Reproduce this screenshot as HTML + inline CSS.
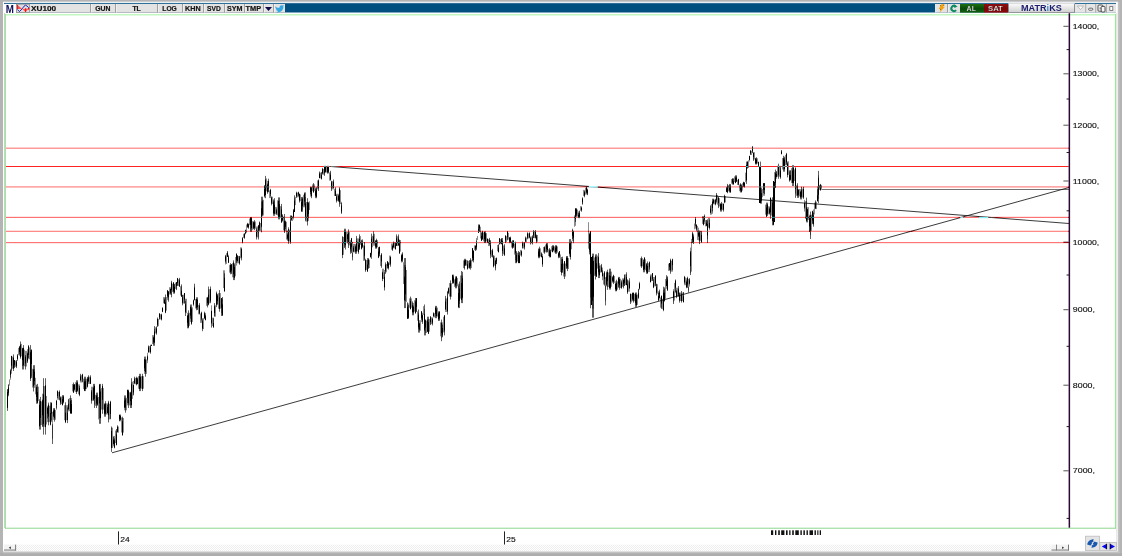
<!DOCTYPE html>
<html><head><meta charset="utf-8"><title>XU100</title><style>*{margin:0;padding:0}
html,body{width:1122px;height:556px;overflow:hidden;background:#b4b4b4}
svg{position:absolute;left:0;top:0;display:block}
text{font-family:"Liberation Sans",sans-serif}
.tb{font-weight:bold;font-size:7.3px;fill:#141414;stroke:#141414;stroke-width:0.2px}
.ax{font-size:7.7px;fill:#0c0c0c;stroke:#0c0c0c;stroke-width:0.12px}
</style></head><body>
<svg width="1122" height="556" viewBox="0 0 1122 556">
<defs><linearGradient id="gm" x1="0" y1="0" x2="0" y2="1"><stop offset="0" stop-color="#ffffff"/><stop offset="1" stop-color="#cfcfcf"/></linearGradient><linearGradient id="gg" x1="0" y1="0" x2="0" y2="1"><stop offset="0" stop-color="#1f6e10"/><stop offset="0.55" stop-color="#084a08"/><stop offset="1" stop-color="#136413"/></linearGradient><linearGradient id="gr" x1="0" y1="0" x2="0" y2="1"><stop offset="0" stop-color="#8c1010"/><stop offset="0.55" stop-color="#7a0606"/><stop offset="1" stop-color="#8a0c0c"/></linearGradient><pattern id="dots" width="2" height="2" patternUnits="userSpaceOnUse"><rect width="2" height="2" fill="#ffffff"/><rect width="1" height="1" fill="#eeeeee"/><rect x="1" y="1" width="1" height="1" fill="#eeeeee"/></pattern></defs>
<rect x="0" y="0" width="1122" height="556" fill="#b4b4b4"/>
<rect x="0" y="553" width="1122" height="3" fill="#adadad"/>
<rect x="3" y="1.7" width="1114.9" height="550" fill="#ffffff"/>
<rect x="4" y="2.9" width="1112" height="1.2" fill="#2f6f98"/>
<rect x="4" y="4" width="1112" height="8.5" fill="#02507f"/>
<rect x="4" y="4" width="12.3" height="9.6" fill="#ffffff"/>
<rect x="16.3" y="4" width="268.7" height="8.5" fill="#e3e3e3"/>
<rect x="16.3" y="12" width="268.7" height="0.6" fill="#b8b8b8"/>
<rect x="16.5" y="4.2" width="13" height="8.2" fill="#dedede" stroke="#8f8f8f" stroke-width="0.8"/>
<path d="M17.3 4.9 V9 L22.3 9 Z" fill="#ff2a2a" fill-opacity="0.75"/><path d="M22.3 9 L25.5 12 L29 8.6 Z" fill="#ff2a2a" fill-opacity="0.75"/>
<path d="M17.6 4.8 V9 M25.6 8.2 V12" stroke="#ff0000" stroke-width="0.9"/><rect x="28" y="8" width="1.2" height="1.6" fill="#ff0000"/>
<path d="M17.3 9.4 L19.4 11.6 L22.3 8.7 L24 6.2 L25.5 5.3 L27 6 L28.9 7.8" stroke="#1414b4" stroke-width="0.9" fill="none"/>
<rect x="90" y="4" width="1" height="8.5" fill="#a0a0a0"/><rect x="91" y="4" width="0.7" height="8.5" fill="#f4f4f4"/>
<rect x="115" y="4" width="1" height="8.5" fill="#a0a0a0"/><rect x="116" y="4" width="0.7" height="8.5" fill="#f4f4f4"/>
<rect x="157" y="4" width="1" height="8.5" fill="#a0a0a0"/><rect x="158" y="4" width="0.7" height="8.5" fill="#f4f4f4"/>
<rect x="182" y="4" width="1" height="8.5" fill="#a0a0a0"/><rect x="183" y="4" width="0.7" height="8.5" fill="#f4f4f4"/>
<rect x="203" y="4" width="1" height="8.5" fill="#a0a0a0"/><rect x="204" y="4" width="0.7" height="8.5" fill="#f4f4f4"/>
<rect x="224" y="4" width="1" height="8.5" fill="#a0a0a0"/><rect x="225" y="4" width="0.7" height="8.5" fill="#f4f4f4"/>
<rect x="244" y="4" width="1" height="8.5" fill="#a0a0a0"/><rect x="245" y="4" width="0.7" height="8.5" fill="#f4f4f4"/>
<rect x="263" y="4" width="1" height="8.5" fill="#a0a0a0"/><rect x="264" y="4" width="0.7" height="8.5" fill="#f4f4f4"/>
<rect x="273" y="4" width="1" height="8.5" fill="#a0a0a0"/><rect x="274" y="4" width="0.7" height="8.5" fill="#f4f4f4"/>
<text x="5.8" y="13.2" textLength="8.2" lengthAdjust="spacingAndGlyphs" style="font-weight:bold;font-size:10px;fill:#12125c">M</text>
<text class="tb" x="31" y="11" textLength="25.2" lengthAdjust="spacingAndGlyphs" >XU100</text>
<text class="tb" x="95.2" y="11" textLength="15.2" lengthAdjust="spacingAndGlyphs" >GUN</text>
<text class="tb" x="132.4" y="11" textLength="8.4" lengthAdjust="spacingAndGlyphs" >TL</text>
<text class="tb" x="162.3" y="11" textLength="14.5" lengthAdjust="spacingAndGlyphs" >LOG</text>
<text class="tb" x="185" y="11" textLength="15.6" lengthAdjust="spacingAndGlyphs" >KHN</text>
<text class="tb" x="207.1" y="11" textLength="13.7" lengthAdjust="spacingAndGlyphs" >SVD</text>
<text class="tb" x="226.9" y="11" textLength="15.5" lengthAdjust="spacingAndGlyphs" >SYM</text>
<text class="tb" x="245.6" y="11" textLength="15.6" lengthAdjust="spacingAndGlyphs" >TMP</text>
<path d="M265 7 H272 L268.5 11 Z" fill="#100a4a"/>
<path d="M275.2 6.2 C276.8 7.8 278.3 8 279.6 7.6 C279.2 5.6 281.3 4.6 282.8 5.6 L284 5.4 L283.3 6.6 C283.6 9.4 281.6 12.4 277.8 12.6 L276.4 12.4 L278.2 11.2 C276.8 11 276.2 10.2 276 9.6 L276.8 9.4 C275.8 8.8 275.4 8 275.2 6.2 Z" fill="#35a9e1"/>
<rect x="935.2" y="4" width="24.799999999999955" height="8.5" fill="#e3e3e3"/>
<rect x="947" y="4" width="1" height="8.5" fill="#a0a0a0"/><rect x="948" y="4" width="0.7" height="8.5" fill="#f4f4f4"/>
<rect x="935.2" y="4" width="0.7" height="8.5" fill="#f4f4f4"/>
<path d="M941.4 4.2 L944.5 4.1 L943.1 6.9 L945 6.7 L939.3 12.9 L941 8.9 L938.7 9 Z" fill="#f5a20c"/><rect x="940.2" y="5.2" width="0.9" height="0.9" fill="#7a4a08"/><rect x="943.4" y="5" width="0.8" height="0.8" fill="#7a4a08"/><rect x="940" y="9.2" width="0.9" height="0.8" fill="#7a4a08"/>
<path d="M955.6 6.2 A2.7 2.7 0 1 0 956.1 10.2" stroke="#0d8a62" stroke-width="2" fill="none"/><path d="M954 4.4 L957.6 6.4 L954.4 8 Z" fill="#0d8a62"/>
<rect x="960" y="4" width="24" height="8.6" fill="url(#gg)"/>
<rect x="984" y="4" width="24.5" height="8.6" fill="url(#gr)"/>
<text class="tb" x="966.6" y="10.9" textLength="9.4" lengthAdjust="spacingAndGlyphs" style="fill:#ffffff;font-size:7.2px">AL</text>
<text class="tb" x="988" y="10.9" textLength="14.8" lengthAdjust="spacingAndGlyphs" style="fill:#ffffff;font-size:7.2px">SAT</text>
<rect x="1008.5" y="2.9" width="66" height="9.7" fill="url(#gm)"/><rect x="1008.5" y="2.9" width="66" height="0.8" fill="#cfcfcf"/><rect x="1008.5" y="12" width="66" height="0.8" fill="#8e8e8e"/><rect x="1074" y="4" width="0.8" height="8.6" fill="#8e8e8e"/>
<text x="1021" y="11.4" textLength="40.8" lengthAdjust="spacingAndGlyphs" style="font-weight:bold;font-size:8.4px;fill:#1d1d6e">MATR<tspan style="fill:#3a8fd8">i</tspan>KS</text>
<rect x="1075" y="4" width="41" height="8.6" fill="#e6e6e6"/>
<rect x="1085.3" y="4" width="0.9" height="8.6" fill="#a0a0a0"/>
<rect x="1095.3" y="4" width="0.9" height="8.6" fill="#a0a0a0"/>
<rect x="1105.9" y="4" width="0.9" height="8.6" fill="#a0a0a0"/>
<path d="M1077.4 6 H1083.6 L1080.5 9.6 Z" fill="#fdfdfd" stroke="#a8a8a8" stroke-width="0.7"/>
<rect x="1088.6" y="8.2" width="4.2" height="2" rx="0.9" fill="#fff" stroke="#444" stroke-width="0.8"/>
<rect x="1098" y="5" width="4.8" height="6.2" rx="0.9" fill="#f6f6f6" stroke="#2a2a2a" stroke-width="0.8"/><rect x="1101.2" y="6.4" width="3.8" height="5.6" rx="0.9" fill="#f6f6f6" stroke="#2a2a2a" stroke-width="0.8"/><rect x="1099.6" y="7.4" width="1.2" height="2" fill="#777"/>
<rect x="1109.8" y="6.6" width="3" height="3.8" fill="#fff" stroke="#666" stroke-width="0.8"/>
<rect x="4.2" y="13" width="0.8" height="515" fill="#c4c4c4"/>
<rect x="5" y="14" width="1111" height="1.5" fill="#c2f7c2"/>
<rect x="5" y="14" width="1" height="514.6" fill="#93ee93"/>
<rect x="1115" y="14" width="1" height="514.6" fill="#93ee93"/>
<rect x="5" y="527.7" width="1111" height="1" fill="#8fd68f"/>
<rect x="1116" y="13" width="1.4" height="539" fill="#e9e9e9"/>
<rect x="822" y="189" width="247" height="0.9" fill="#666"/>
<rect x="1068.6" y="13.2" width="1.5" height="514.5" fill="#2c0838"/>
<rect x="1063.4" y="25.8" width="5.4" height="1" fill="#555"/>
<text class="ax" x="1072.8" y="28.8" textLength="26.4" lengthAdjust="spacingAndGlyphs">14000,</text>
<rect x="1063.4" y="73.3" width="5.4" height="1" fill="#555"/>
<text class="ax" x="1072.8" y="76.3" textLength="26.4" lengthAdjust="spacingAndGlyphs">13000,</text>
<rect x="1063.4" y="124.7" width="5.4" height="1" fill="#555"/>
<text class="ax" x="1072.8" y="127.7" textLength="26.4" lengthAdjust="spacingAndGlyphs">12000,</text>
<rect x="1063.4" y="180.5" width="5.4" height="1" fill="#555"/>
<text class="ax" x="1072.8" y="183.5" textLength="26.4" lengthAdjust="spacingAndGlyphs">11000,</text>
<rect x="1063.4" y="241.6" width="5.4" height="1" fill="#555"/>
<text class="ax" x="1072.8" y="244.6" textLength="26.4" lengthAdjust="spacingAndGlyphs">10000,</text>
<rect x="1063.4" y="309.2" width="5.4" height="1" fill="#555"/>
<text class="ax" x="1072.8" y="312.2" textLength="22.2" lengthAdjust="spacingAndGlyphs">9000,</text>
<rect x="1063.4" y="384.7" width="5.4" height="1" fill="#555"/>
<text class="ax" x="1072.8" y="387.7" textLength="22.2" lengthAdjust="spacingAndGlyphs">8000,</text>
<rect x="1063.4" y="470.3" width="5.4" height="1" fill="#555"/>
<text class="ax" x="1072.8" y="473.3" textLength="22.2" lengthAdjust="spacingAndGlyphs">7000,</text>
<rect x="1066.6" y="49.1" width="2.6" height="1" fill="#1a1a1a"/>
<rect x="1066.6" y="98.5" width="2.6" height="1" fill="#1a1a1a"/>
<rect x="1066.6" y="152.0" width="2.6" height="1" fill="#1a1a1a"/>
<rect x="1066.6" y="210.3" width="2.6" height="1" fill="#1a1a1a"/>
<rect x="1066.6" y="274.5" width="2.6" height="1" fill="#1a1a1a"/>
<rect x="1066.6" y="345.8" width="2.6" height="1" fill="#1a1a1a"/>
<rect x="1066.6" y="426.1" width="2.6" height="1" fill="#1a1a1a"/>
<rect x="1066.6" y="517.9" width="2.6" height="1" fill="#1a1a1a"/>
<line x1="112" y1="452.8" x2="1069" y2="187.5" stroke="#181818" stroke-width="0.85"/>
<line x1="330.7" y1="166.5" x2="1069" y2="223.5" stroke="#181818" stroke-width="0.85"/>
<path d="M7.5 389.0V407.3M8.5 384.2V396.4M9.5 379.4V385.6M10.5 368.8V379.7M11.5 358.1V373.7M12.5 356.7V368.7M13.5 356.7V368.7M14.5 360.7V366.9M15.5 360.7V366.9M16.5 360.7V366.9M17.5 354.3V361.0M18.5 347.9V355.2M19.5 345.9V355.8M20.5 343.9V356.3M21.5 343.9V356.3M22.5 348.5V366.1M23.5 348.5V366.1M24.5 349.7V366.3M25.5 350.9V366.5M26.5 350.9V366.5M27.5 349.2V362.9M28.5 347.4V359.3M29.5 347.4V359.3M30.5 350.1V376.0M31.5 352.5V376.4M32.5 368.8V387.5M33.5 368.9V387.8M34.5 368.9V387.8M35.5 377.8V394.4M36.5 386.7V400.9M37.5 386.7V400.9M38.5 386.7V400.9M39.5 401.5V425.0M40.5 401.5V425.0M41.5 401.5V425.0M42.5 393.7V425.9M43.5 386.1V426.7M44.5 386.1V426.7M45.5 386.1V426.7M46.5 395.9V424.5M47.5 405.8V422.1M48.5 405.8V422.1M49.5 405.8V422.1M50.5 405.5V422.1M51.5 405.5V422.1M52.5 411.8V438.8M53.5 409.9V419.8M54.5 409.9V419.8M55.5 409.9V419.8M56.5 400.9V409.7M57.5 391.9V399.7M58.5 391.9V399.7M59.5 391.9V399.7M60.5 396.5V403.7M61.5 396.6V404.0M62.5 396.6V404.0M63.5 396.5V403.7M64.5 405.2V420.2M65.5 405.2V420.2M66.5 405.2V420.2M67.5 405.2V420.2M68.5 398.9V411.4M69.5 398.0V411.2M70.5 398.0V411.2M71.5 398.0V411.2M72.5 384.0V391.4M73.5 384.0V391.4M74.5 384.0V391.4M75.5 382.2V392.1M76.5 382.2V392.1M77.5 382.2V392.1M78.5 384.4V394.3M79.5 384.4V394.3M80.5 375.2V382.5M81.5 375.2V382.5M82.5 375.2V382.5M83.5 378.7V389.1M84.5 378.7V389.1M85.5 378.7V389.1M86.5 378.7V389.1M87.5 377.7V386.5M88.5 376.7V384.0M89.5 376.7V384.0M90.5 376.7V384.0M91.5 386.7V400.9M92.5 386.7V400.9M93.5 386.7V400.9M94.5 387.3V404.6M95.5 394.8V405.8M96.5 394.8V405.8M97.5 394.8V405.8M98.5 397.0V419.4M99.5 389.5V418.2M100.5 389.5V418.2M101.5 388.1V409.6M102.5 388.1V409.6M103.5 388.1V409.6M104.5 403.4V414.5M105.5 403.4V414.5M106.5 403.4V414.5M107.5 403.4V414.5M108.5 403.8V419.4M109.5 403.8V419.4M110.5 403.8V419.4M111.5 427.7V448.0M112.5 427.7V448.0M113.5 435.9V446.3M114.5 435.9V446.3M115.5 430.6V443.0M116.5 430.6V443.0M117.5 426.5V432.7M118.5 426.5V432.7M119.5 415.6V421.3M120.5 415.6V421.3M121.5 417.4V432.5M122.5 418.0V432.6M123.5 418.0V432.6M124.5 397.8V410.3M125.5 397.8V410.3M126.5 397.8V410.3M127.5 392.3V405.4M128.5 392.3V405.4M129.5 392.3V405.4M130.5 392.3V405.4M131.5 382.4V403.8M132.5 381.6V398.9M133.5 381.0V395.5M134.5 377.9V384.2M135.5 377.9V384.2M136.5 377.9V384.2M137.5 377.9V384.2M138.5 376.2V388.7M139.5 376.2V388.7M140.5 376.2V388.7M141.5 376.2V388.7M142.5 376.2V388.7M143.5 376.2V388.7M144.5 359.4V373.9M145.5 359.4V373.9M146.5 359.4V373.9M147.5 352.8V363.2M148.5 346.3V352.5M149.5 346.0V352.5M150.5 346.0V352.5M151.5 344.9V345.7M152.5 335.1V344.1M153.5 335.1V344.1M154.5 328.9V343.0M155.5 327.3V333.5M156.5 327.3V333.5M157.5 318.9V326.2M158.5 318.9V326.2M159.5 314.2V319.4M160.5 314.2V319.4M161.5 314.2V319.4M162.5 307.0V312.2M163.5 297.1V303.3M164.5 297.1V303.3M165.5 297.1V310.6M166.5 297.1V310.6M167.5 291.7V300.1M168.5 291.7V300.1M169.5 287.2V294.5M170.5 287.2V294.5M171.5 283.1V295.0M172.5 283.8V292.1M173.5 283.8V292.1M174.5 283.8V292.1M175.5 282.7V288.9M176.5 282.7V288.9M177.5 279.2V286.0M178.5 279.2V286.0M179.5 279.2V286.0M180.5 286.2V295.5M181.5 286.2V295.5M182.5 294.7V303.6M183.5 294.7V303.6M184.5 294.7V303.6M185.5 298.7V313.2M186.5 298.7V313.2M187.5 312.8V325.8M188.5 312.8V325.8M189.5 312.8V325.8M190.5 307.3V321.9M191.5 307.3V321.9M192.5 307.3V321.9M193.5 300.0V306.2M194.5 286.4V300.4M195.5 299.1V308.5M196.5 299.1V308.5M197.5 299.1V308.5M198.5 304.9V314.2M199.5 304.9V314.2M200.5 313.5V322.9M201.5 313.5V322.9M202.5 318.1V329.1M203.5 318.1V329.1M204.5 312.9V319.2M205.5 312.9V319.2M206.5 297.5V305.8M207.5 297.5V305.8M208.5 289.2V303.3M209.5 289.2V303.3M210.5 289.2V303.3M211.5 305.3V324.0M212.5 317.6V326.0M213.5 317.6V326.0M214.5 305.3V316.7M215.5 305.3V316.7M216.5 293.8V305.2M217.5 293.8V305.2M218.5 293.1V308.7M219.5 293.1V308.7M220.5 293.1V308.7M221.5 298.7V313.2M222.5 298.7V313.2M223.5 270.3V288.1M224.5 270.3V288.1M225.5 256.2V264.5M226.5 253.1V264.0M227.5 251.9V256.6M228.5 254.8V263.1M229.5 264.8V272.7M230.5 264.8V272.7M231.5 264.8V272.7M232.5 263.2V277.3M233.5 263.2V277.3M234.5 263.2V277.3M235.5 257.0V276.3M236.5 255.2V265.6M237.5 256.0V263.3M238.5 256.0V263.3M239.5 256.0V263.3M240.5 247.4V258.3M241.5 247.4V258.3M242.5 237.7V243.4M243.5 233.8V238.0M244.5 233.8V238.0M245.5 229.5V233.7M246.5 224.5V232.9M247.5 223.7V227.9M248.5 223.7V227.9M249.5 218.5V225.2M250.5 219.2V229.6M251.5 219.2V229.6M252.5 221.1V229.9M253.5 221.5V228.7M254.5 221.5V228.7M255.5 221.5V228.7M256.5 226.5V237.4M257.5 226.5V237.4M258.5 226.5V237.4M259.5 223.0V230.8M260.5 223.0V230.8M261.5 201.7V227.3M262.5 199.8V215.5M263.5 199.8V215.5M264.5 185.8V196.2M265.5 179.0V195.1M266.5 178.4V191.3M267.5 180.8V191.7M268.5 180.8V191.7M269.5 190.3V198.1M270.5 190.3V198.1M271.5 196.7V204.0M272.5 196.7V204.0M273.5 200.7V213.3M274.5 200.7V213.3M275.5 206.9V214.3M276.5 206.9V214.3M277.5 200.3V215.4M278.5 200.5V216.3M279.5 200.5V216.3M280.5 206.1V217.2M281.5 206.6V220.2M282.5 215.2V221.7M283.5 216.7V230.3M284.5 216.7V230.3M285.5 220.4V230.9M286.5 221.8V239.6M287.5 230.5V241.0M288.5 229.6V241.5M289.5 229.6V241.5M290.5 219.4V239.8M291.5 216.3V221.0M292.5 216.3V221.0M293.5 208.9V219.4M294.5 197.8V210.4M295.5 196.9V205.2M296.5 192.6V197.3M297.5 192.6V197.3M298.5 192.6V197.3M299.5 194.4V201.2M300.5 194.4V201.2M301.5 198.8V209.7M302.5 198.8V209.7M303.5 194.8V207.3M304.5 194.8V207.3M305.5 196.9V219.9M306.5 202.0V221.7M307.5 202.0V221.7M308.5 203.1V220.9M309.5 201.3V210.1M310.5 188.3V196.6M311.5 188.3V196.6M312.5 184.4V191.1M313.5 184.4V191.1M314.5 184.4V191.1M315.5 187.6V196.5M316.5 187.6V196.5M317.5 180.4V189.3M318.5 180.4V189.3M319.5 172.6V178.4M320.5 172.6V178.4M321.5 172.6V178.4M322.5 169.0V174.8M323.5 169.0V174.8M324.5 167.2V174.5M325.5 166.9V172.6M326.5 166.9V172.6M327.5 166.9V172.6M328.5 166.9V172.6M329.5 172.4V180.7M330.5 172.4V180.7M331.5 181.1V189.4M332.5 181.1V189.4M333.5 181.1V189.4M334.5 188.8V196.0M335.5 188.8V196.0M336.5 193.8V201.1M337.5 193.8V201.1M338.5 193.8V201.1M339.5 190.1V204.1M340.5 190.1V204.1M341.5 201.8V213.2M342.5 237.0V254.8M343.5 237.0V254.8M344.5 231.6V246.6M345.5 231.6V246.6M346.5 232.0V241.8M347.5 232.0V241.8M348.5 231.9V245.4M349.5 231.9V245.4M350.5 240.1V251.6M351.5 240.1V251.6M352.5 241.8V257.4M353.5 244.0V252.3M354.5 244.0V252.3M355.5 244.0V252.3M356.5 238.4V251.3M357.5 238.4V251.3M358.5 238.4V251.3M359.5 236.8V249.3M360.5 236.1V244.9M361.5 240.8V248.1M362.5 240.8V248.1M363.5 245.3V260.8M364.5 245.3V260.8M365.5 260.0V269.9M366.5 260.0V269.9M367.5 260.0V269.9M368.5 259.7V268.0M369.5 259.7V268.0M370.5 252.6V257.8M371.5 237.1V255.3M372.5 235.8V247.3M373.5 233.8V245.7M374.5 233.8V245.7M375.5 240.1V247.3M376.5 240.1V247.3M377.5 240.1V247.3M378.5 248.2V256.5M379.5 248.2V256.5M380.5 255.2V266.1M381.5 255.2V266.1M382.5 268.7V279.1M383.5 268.7V279.1M384.5 270.0V287.2M385.5 264.0V272.3M386.5 264.0V272.3M387.5 262.2V268.4M388.5 262.2V268.4M389.5 255.6V264.9M390.5 255.6V264.9M391.5 243.5V249.7M392.5 243.5V249.7M393.5 242.6V248.4M394.5 242.6V248.4M395.5 242.6V248.4M396.5 236.3V246.1M397.5 236.3V246.1M398.5 236.3V246.1M399.5 240.1V251.6M400.5 240.1V251.6M401.5 253.7V261.0M402.5 253.7V261.0M403.5 262.3V284.1M404.5 265.1V301.1M405.5 265.1V301.1M406.5 270.0V301.9M407.5 303.4V316.4M408.5 303.4V316.4M409.5 298.4V307.7M410.5 298.4V307.7M411.5 298.4V307.7M412.5 302.9V313.3M413.5 302.9V313.3M414.5 300.2V311.6M415.5 300.2V311.6M416.5 300.2V311.6M417.5 311.3V320.7M418.5 312.7V329.4M419.5 320.2V330.6M420.5 320.2V330.6M421.5 312.8V322.1M422.5 312.8V322.1M423.5 306.2V315.0M424.5 308.8V331.1M425.5 320.6V333.0M426.5 320.6V333.0M427.5 319.1V331.6M428.5 319.1V331.6M429.5 319.1V331.6M430.5 317.3V324.1M431.5 317.3V324.1M432.5 317.3V324.1M433.5 313.2V317.4M434.5 313.2V317.4M435.5 307.6V316.5M436.5 307.6V316.5M437.5 307.6V316.5M438.5 312.4V319.6M439.5 312.4V319.6M440.5 322.3V336.3M441.5 322.6V338.2M442.5 322.3V336.3M443.5 316.8V332.4M444.5 316.8V332.4M445.5 298.5V312.0M446.5 298.5V312.0M447.5 290.8V310.7M448.5 287.8V294.2M449.5 283.0V296.5M450.5 283.1V296.8M451.5 283.1V296.8M452.5 276.0V283.0M453.5 276.0V283.0M454.5 279.4V286.8M455.5 278.1V286.6M456.5 278.1V286.6M457.5 278.0V286.3M458.5 283.7V304.1M459.5 283.7V304.1M460.5 275.5V298.6M461.5 275.5V298.6M462.5 275.5V298.6M463.5 260.3V268.1M464.5 260.3V268.1M465.5 259.9V265.6M466.5 259.9V265.6M467.5 260.9V268.2M468.5 260.9V268.2M469.5 260.9V268.2M470.5 259.8V268.1M471.5 259.8V268.1M472.5 250.1V260.4M473.5 250.1V260.4M474.5 245.4V250.1M475.5 245.4V250.1M476.5 238.0V248.8M477.5 235.9V240.0M478.5 225.6V231.8M479.5 225.6V231.8M480.5 226.7V238.5M481.5 232.2V239.5M482.5 232.2V239.5M483.5 232.5V241.3M484.5 233.1V241.4M485.5 233.1V241.4M486.5 233.1V241.4M487.5 239.2V241.8M488.5 239.2V246.1M489.5 239.2V246.1M490.5 241.4V255.5M491.5 250.1V256.9M492.5 250.1V256.9M493.5 255.7V265.5M494.5 255.7V265.5M495.5 258.0V268.4M496.5 257.3V264.1M497.5 245.0V251.2M498.5 245.0V251.2M499.5 239.0V244.2M500.5 239.0V244.2M501.5 239.0V244.2M502.5 240.5V253.5M503.5 245.5V254.3M504.5 245.5V254.3M505.5 236.2V242.0M506.5 236.2V242.0M507.5 232.8V239.6M508.5 232.8V239.6M509.5 237.5V242.2M510.5 237.5V242.2M511.5 241.4V247.6M512.5 241.4V247.6M513.5 241.4V247.6M514.5 243.7V254.6M515.5 244.6V260.2M516.5 252.7V261.5M517.5 252.7V261.5M518.5 252.7V261.5M519.5 252.7V261.5M520.5 249.9V255.6M521.5 249.9V255.6M522.5 242.7V248.4M523.5 242.7V248.4M524.5 242.7V248.4M525.5 237.5V242.2M526.5 237.5V242.2M527.5 233.3V238.5M528.5 233.3V238.5M529.5 233.3V238.5M530.5 236.4V243.2M531.5 236.4V243.2M532.5 236.4V243.2M533.5 231.4V238.2M534.5 231.4V238.2M535.5 231.4V238.2M536.5 235.0V241.8M537.5 235.0V241.8M538.5 248.3V256.6M539.5 248.3V256.6M540.5 248.3V256.6M541.5 252.6V257.3M542.5 253.8V264.7M543.5 247.0V252.7M544.5 247.0V252.7M545.5 244.6V252.3M546.5 244.5V251.7M547.5 244.5V251.7M548.5 249.4V256.1M549.5 249.4V256.1M550.5 249.4V256.1M551.5 246.2V251.4M552.5 246.2V251.4M553.5 246.2V251.4M554.5 246.4V252.6M555.5 246.4V252.6M556.5 246.4V252.6M557.5 246.4V252.6M558.5 252.0V257.2M559.5 252.0V257.2M560.5 254.4V272.0M561.5 259.3V272.8M562.5 259.3V272.8M563.5 263.5V276.5M564.5 263.5V276.5M565.5 263.5V276.5M566.5 258.1V269.0M567.5 258.1V269.0M568.5 258.1V269.0M569.5 242.0V256.7M570.5 242.0V256.7M571.5 240.8V249.3M572.5 230.7V241.1M573.5 230.7V241.1M574.5 215.4V226.8M575.5 211.0V225.8M576.5 209.5V216.5M577.5 209.5V216.5M578.5 211.4V217.1M579.5 211.4V217.1M580.5 206.2V210.8M581.5 206.2V210.8M582.5 197.3V204.6M583.5 189.9V196.1M584.5 189.9V196.1M585.5 187.8V194.6M586.5 187.8V194.6M587.5 188.6V195.3M588.5 222.2V248.7M589.5 234.6V251.9M590.5 242.0V297.5M591.5 263.8V301.0M592.5 262.6V308.7M593.5 262.6V308.7M594.5 257.4V275.9M595.5 257.4V275.9M596.5 257.1V274.8M597.5 255.6V268.6M598.5 256.6V274.6M599.5 263.2V275.7M600.5 265.3V272.6M601.5 265.3V272.6M602.5 267.6V280.2M603.5 273.3V284.5M604.5 273.3V284.5M605.5 277.2V300.8M606.5 273.1V284.5M607.5 272.5V287.0M608.5 272.5V287.0M609.5 271.6V286.7M610.5 271.6V286.7M611.5 271.6V286.7M612.5 276.0V282.8M613.5 276.0V282.8M614.5 276.0V282.8M615.5 281.3V289.7M616.5 281.3V289.7M617.5 281.3V289.7M618.5 278.7V288.0M619.5 278.7V288.0M620.5 278.7V288.0M621.5 279.9V288.0M622.5 278.3V286.8M623.5 278.3V286.8M624.5 274.8V286.0M625.5 274.3V284.9M626.5 274.3V284.9M627.5 280.5V291.7M628.5 280.5V291.7M629.5 280.5V291.7M630.5 294.1V302.4M631.5 294.1V302.4M632.5 293.9V301.2M633.5 293.9V301.2M634.5 293.9V301.2M635.5 294.5V304.9M636.5 294.5V304.9M637.5 294.5V304.9M638.5 288.7V299.1M639.5 281.8V289.5M640.5 258.1V266.4M641.5 258.1V266.4M642.5 258.1V266.4M643.5 259.3V270.2M644.5 259.3V270.2M645.5 259.3V270.2M646.5 263.2V272.1M647.5 263.2V272.1M648.5 263.2V272.1M649.5 263.2V272.1M650.5 274.4V281.1M651.5 274.4V281.1M652.5 274.4V281.1M653.5 277.0V286.4M654.5 277.0V286.4M655.5 277.0V286.4M656.5 284.2V293.6M657.5 284.2V293.6M658.5 291.2V299.5M659.5 291.2V299.5M660.5 297.4V307.7M661.5 297.4V307.7M662.5 298.8V309.2M663.5 290.1V307.8M664.5 288.9V300.4M665.5 279.0V298.8M666.5 277.4V288.8M667.5 277.4V288.8M668.5 263.7V270.9M669.5 263.7V270.9M670.5 260.8V271.7M671.5 260.8V271.7M672.5 260.8V271.7M673.5 289.1V301.6M674.5 282.9V300.6M675.5 281.7V293.2M676.5 287.7V296.5M677.5 287.7V296.5M678.5 287.7V296.5M679.5 292.6V301.0M680.5 292.6V301.0M681.5 292.6V301.0M682.5 292.6V301.0M683.5 292.6V301.0M684.5 277.4V285.2M685.5 277.4V285.2M686.5 278.3V286.6M687.5 278.3V286.6M688.5 278.9V290.3M689.5 278.3V286.6M690.5 247.6V273.1M691.5 238.9V271.7M692.5 233.6V242.3M693.5 233.6V242.3M694.5 223.5V229.3M695.5 219.2V228.6M696.5 224.5V231.2M697.5 225.9V240.0M698.5 227.7V240.3M699.5 230.5V241.9M700.5 230.9V240.8M701.5 230.9V240.8M702.5 216.1V223.9M703.5 216.1V223.9M704.5 216.0V223.9M705.5 220.1V226.4M706.5 220.1V226.4M707.5 220.9V239.2M708.5 217.9V227.7M709.5 217.9V227.7M710.5 204.9V214.8M711.5 204.0V214.6M712.5 201.2V213.8M713.5 199.6V204.4M714.5 199.6V204.4M715.5 199.6V204.4M716.5 194.7V203.4M717.5 194.9V204.7M718.5 198.2V206.5M719.5 198.2V206.5M720.5 203.3V210.2M721.5 203.3V210.2M722.5 203.3V210.2M723.5 203.3V210.2M724.5 196.0V202.4M725.5 196.0V202.4M726.5 187.4V192.2M727.5 185.2V191.9M728.5 185.1V191.3M729.5 185.1V191.3M730.5 185.1V191.3M731.5 179.0V183.7M732.5 179.0V183.7M733.5 179.0V183.7M734.5 176.4V182.1M735.5 176.4V182.1M736.5 176.4V182.1M737.5 179.8V185.0M738.5 179.8V185.0M739.5 184.5V191.2M740.5 184.5V191.2M741.5 184.5V191.2M742.5 183.2V190.7M743.5 182.5V186.7M744.5 182.5V186.7M745.5 172.7V182.1M746.5 164.7V180.8M747.5 162.7V168.4M748.5 160.2V168.0M749.5 155.6V161.5M750.5 150.9V155.0M751.5 150.9V155.0M752.5 147.2V153.2M753.5 152.2V159.5M754.5 152.2V159.5M755.5 158.3V163.5M756.5 158.3V163.5M757.5 158.3V163.5M758.5 162.3V165.9M759.5 167.5V197.8M760.5 167.5V197.8M761.5 189.8V201.4M762.5 188.9V197.3M763.5 185.3V195.8M764.5 185.3V195.8M765.5 204.6V214.7M766.5 204.6V214.7M767.5 204.5V214.4M768.5 206.3V214.3M769.5 206.3V214.3M770.5 199.6V215.7M771.5 199.3V215.6M772.5 200.2V221.2M773.5 187.2V219.1M774.5 172.1V185.3M775.5 172.1V185.3M776.5 171.0V178.8M777.5 165.8V176.7M778.5 165.8V176.7M779.5 165.8V176.7M780.5 165.8V176.7M781.5 150.7V153.8M782.5 158.0V169.5M783.5 158.0V169.5M784.5 158.0V169.5M785.5 154.9V165.3M786.5 154.9V165.3M787.5 161.3V174.8M788.5 161.3V174.8M789.5 170.0V179.8M790.5 170.0V179.8M791.5 168.1V183.1M792.5 168.1V183.1M793.5 168.1V183.1M794.5 169.5V181.0M795.5 171.6V193.6M796.5 185.3V195.8M797.5 185.3V195.8M798.5 189.0V196.4M799.5 189.0V196.4M800.5 189.2V197.7M801.5 188.6V197.6M802.5 188.6V197.6M803.5 188.6V197.6M804.5 199.9V211.5M805.5 201.1V218.9M806.5 201.1V218.9M807.5 207.2V219.9M808.5 207.2V219.9M809.5 214.7V230.8M810.5 215.4V235.2M811.5 214.7V230.8M812.5 211.6V224.2M813.5 209.4V223.9M814.5 202.7V214.4M815.5 201.8V209.1M816.5 201.8V209.1M817.5 186.6V200.6M818.5 175.4V198.8M819.5 184.9V189.8M820.5 184.9V189.8M821.5 184.9V189.8" stroke="#000" stroke-opacity="0.45" stroke-width="1" fill="none"/>
<path d="M7.5 389.4V410.9M8.5 384.8V395.3M10.5 370.0V377.6M11.5 355.8V370.6M13.5 354.4V371.0M14.5 360.0V368.1M16.5 360.1V368.1M17.5 354.4V359.6M19.5 346.4V354.5M20.5 341.5V358.7M22.5 347.8V369.5M23.5 345.1V369.5M25.5 355.1V369.5M27.5 352.6V362.5M28.5 345.1V358.0M30.5 345.1V381.0M31.5 349.3V378.1M33.5 365.2V391.5M34.5 365.2V384.8M36.5 384.7V403.7M37.5 383.9V403.7M39.5 399.3V429.6M40.5 396.9V429.6M42.5 399.6V427.0M43.5 378.2V434.6M45.5 378.2V434.6M47.5 407.2V418.4M48.5 402.6V425.3M50.5 402.3V425.3M51.5 402.3V420.4M52.5 424.3V444.0M53.5 408.2V417.1M54.5 408.0V421.7M56.5 399.9V408.3M57.5 390.4V398.0M59.5 390.4V400.4M60.5 396.7V404.9M62.5 395.1V405.5M63.5 395.1V402.8M65.5 402.3V423.1M67.5 407.4V423.1M68.5 399.4V409.4M70.5 395.4V413.8M71.5 400.1V413.8M73.5 382.5V392.9M74.5 384.0V390.0M76.5 380.3V394.0M77.5 380.3V390.9M79.5 386.0V396.2M80.5 373.8V380.9M82.5 373.8V381.8M84.5 376.7V391.1M85.5 376.7V391.1M87.5 376.9V387.5M88.5 375.3V382.2M90.5 375.3V383.9M91.5 390.0V403.7M93.5 383.9V400.3M94.5 383.9V408.0M96.5 392.6V408.0M97.5 392.6V405.3M99.5 383.9V423.8M100.5 383.9V423.8M102.5 383.9V413.8M104.5 403.7V416.7M105.5 401.2V416.7M107.5 404.6V413.1M108.5 400.8V422.4M110.5 400.8V418.8M111.5 426.5V451.9M113.5 437.0V444.5M114.5 438.5V448.3M116.5 429.0V445.4M117.5 425.3V432.2M119.5 414.5V421.1M120.5 414.5V420.1M122.5 416.7V435.4M124.5 395.4V407.9M125.5 395.4V412.7M127.5 389.7V403.1M128.5 389.7V408.0M130.5 391.8V408.0M131.5 378.2V408.0M133.5 384.9V394.8M134.5 376.7V383.8M136.5 376.7V385.4M137.5 377.6V384.2M139.5 373.8V391.1M140.5 373.8V391.1M142.5 373.8V391.1M144.5 356.6V371.1M145.5 356.6V376.7M147.5 355.6V360.5M148.5 345.5V352.4M150.5 344.8V353.7M151.5 344.8V345.8M153.5 336.7V345.8M154.5 326.1V345.8M156.5 326.4V334.7M157.5 317.5V326.9M159.5 313.2V319.4M161.5 313.7V320.4M162.5 308.1V311.7M164.5 298.5V303.8M165.5 294.5V313.2M167.5 290.1V297.6M168.5 291.1V301.7M170.5 288.7V294.4M171.5 280.8V297.3M173.5 282.2V293.7M174.5 284.2V293.7M176.5 282.1V290.1M177.5 277.9V285.6M179.5 277.9V286.6M181.5 284.4V296.9M182.5 295.0V305.3M184.5 293.0V303.4M185.5 300.8V316.0M187.5 315.0V328.3M188.5 310.3V328.3M190.5 304.5V318.6M191.5 304.5V324.7M193.5 299.6V304.7M194.5 283.7V300.3M196.5 297.3V310.3M197.5 297.3V310.0M199.5 303.1V314.4M201.5 311.7V320.4M202.5 319.5V331.2M204.5 311.7V318.4M205.5 314.7V320.4M207.5 296.9V307.4M208.5 286.5V305.3M210.5 286.5V302.5M211.5 310.7V327.6M213.5 318.4V327.6M214.5 303.1V316.3M216.5 291.6V307.1M217.5 294.5V304.1M219.5 290.1V311.7M221.5 298.0V316.0M222.5 297.0V316.0M224.5 273.3V291.6M225.5 254.9V262.5M227.5 251.0V256.9M228.5 256.1V262.8M230.5 263.2V274.3M231.5 264.0V274.1M233.5 260.4V280.1M234.5 264.4V280.1M236.5 253.2V262.8M237.5 255.0V261.5M239.5 255.9V264.7M241.5 248.4V260.4M242.5 237.3V241.8M244.5 233.1V238.8M245.5 230.0V234.3M247.5 222.9V227.3M248.5 223.7V228.7M250.5 217.2V231.6M251.5 217.2V231.6M253.5 221.6V229.2M254.5 220.1V230.1M256.5 228.3V239.5M258.5 224.9V239.5M259.5 221.5V230.5M261.5 196.7V232.3M262.5 196.7V216.3M264.5 185.2V197.5M265.5 175.9V198.2M267.5 183.6V193.8M268.5 178.7V192.2M270.5 188.8V196.2M271.5 196.6V205.4M273.5 199.4V215.8M274.5 198.2V215.8M276.5 208.6V214.8M278.5 197.4V219.4M279.5 197.4V219.4M281.5 203.9V222.9M282.5 214.3V220.9M284.5 214.0V233.0M285.5 221.0V229.1M287.5 233.4V239.6M288.5 227.3V243.8M290.5 215.4V243.8M291.5 215.4V219.9M293.5 209.5V217.8M294.5 195.3V212.0M296.5 191.7V197.8M298.5 191.7V196.0M299.5 193.5V202.5M301.5 197.0V211.8M302.5 196.9V211.8M304.5 192.4V205.4M305.5 192.4V221.3M307.5 198.2V225.5M308.5 201.9V216.7M310.5 186.7V194.3M311.5 186.9V198.2M313.5 183.1V192.4M315.5 188.7V198.2M316.5 187.5V198.2M318.5 179.4V191.0M319.5 171.5V178.1M321.5 172.2V179.5M322.5 167.9V173.6M324.5 165.8V175.9M325.5 165.8V172.4M327.5 165.8V173.7M328.5 165.8V173.4M330.5 170.8V180.2M331.5 180.8V191.0M333.5 179.5V188.1M335.5 187.4V196.0M336.5 195.3V202.5M338.5 194.9V201.7M339.5 187.4V206.8M341.5 203.0V213.8M342.5 236.2V258.2M344.5 228.7V248.0M345.5 228.7V249.5M347.5 234.0V243.3M348.5 229.3V248.0M350.5 242.6V253.8M351.5 237.9V253.1M352.5 252.9V260.4M353.5 246.1V252.2M355.5 245.5V253.9M356.5 235.9V253.7M358.5 242.1V253.8M359.5 234.4V249.7M361.5 239.8V249.5M362.5 239.4V247.3M364.5 242.3V259.7M365.5 258.8V271.8M367.5 258.1V271.8M368.5 258.1V268.8M370.5 253.1V257.0M371.5 233.6V258.8M373.5 231.5V242.4M375.5 240.6V248.7M376.5 238.7V248.7M378.5 247.1V258.1M379.5 246.6V255.8M381.5 253.1V267.8M382.5 271.7V281.1M384.5 272.3V290.5M385.5 262.4V273.8M387.5 261.0V268.4M388.5 262.6V269.6M390.5 256.7V266.7M392.5 245.2V250.9M393.5 241.5V247.6M395.5 242.9V249.5M396.5 234.4V245.9M398.5 234.4V245.5M399.5 239.7V253.8M401.5 254.9V262.4M402.5 252.3V262.2M404.5 258.1V308.1M405.5 258.1V308.1M407.5 302.4V318.9M408.5 305.1V318.9M410.5 296.6V309.5M412.5 301.4V315.3M413.5 305.7V315.3M415.5 298.0V313.8M416.5 298.0V311.8M418.5 309.5V332.6M419.5 322.9V332.6M421.5 311.0V319.7M422.5 314.8V323.9M424.5 304.5V335.4M425.5 319.4V335.4M427.5 316.7V332.1M428.5 316.7V334.0M430.5 316.0V325.1M432.5 318.3V325.4M433.5 312.4V316.6M435.5 305.9V318.2M436.5 305.9V318.2M438.5 311.3V321.0M439.5 311.0V320.8M441.5 319.6V341.2M442.5 324.7V337.3M444.5 315.2V335.4M445.5 295.9V309.7M447.5 291.7V314.6M448.5 287.6V293.4M450.5 280.4V299.5M452.5 274.6V283.8M453.5 274.6V283.6M455.5 276.4V288.3M456.5 276.4V288.3M458.5 285.6V308.1M459.5 281.5V308.1M461.5 271.0V303.1M462.5 271.8V303.1M464.5 258.8V269.6M465.5 258.8V265.8M467.5 260.4V269.6M469.5 260.1V268.7M470.5 258.2V269.7M472.5 248.1V261.3M473.5 250.6V262.4M475.5 245.5V251.0M476.5 240.6V250.2M478.5 224.4V232.8M479.5 224.4V230.8M481.5 232.8V240.9M482.5 230.8V239.7M484.5 231.7V243.0M485.5 231.5V243.0M487.5 238.7V242.3M489.5 237.9V244.6M490.5 240.2V258.2M492.5 248.8V257.5M493.5 255.3V267.4M495.5 260.3V270.4M496.5 258.3V264.2M498.5 244.3V252.4M499.5 238.0V244.5M501.5 238.0V244.3M502.5 238.0V256.0M504.5 244.2V256.0M505.5 235.1V242.9M507.5 231.5V240.4M509.5 237.3V243.1M510.5 236.6V242.5M512.5 240.2V248.8M513.5 240.2V247.6M515.5 241.6V263.2M516.5 251.1V263.2M518.5 251.0V263.2M519.5 251.9V263.2M521.5 251.2V256.7M522.5 241.6V248.4M524.5 242.5V249.5M525.5 236.6V242.0M527.5 232.3V239.3M529.5 232.3V238.0M530.5 237.4V244.5M532.5 235.3V244.5M533.5 230.1V238.0M535.5 230.1V238.4M536.5 234.6V243.1M538.5 249.2V258.2M539.5 246.7V258.2M541.5 252.6V257.3M542.5 256.3V266.8M544.5 246.3V253.8M546.5 243.1V252.6M547.5 243.1V252.3M549.5 248.1V257.4M550.5 249.9V257.4M552.5 245.2V252.4M553.5 245.2V250.6M555.5 245.2V253.8M556.5 245.2V253.8M558.5 252.9V258.2M559.5 251.0V257.8M561.5 257.1V275.4M562.5 256.7V272.4M564.5 261.0V279.0M566.5 256.0V268.4M567.5 256.0V271.1M569.5 239.1V254.2M570.5 239.1V259.6M572.5 228.7V239.1M573.5 232.1V243.1M575.5 208.1V221.9M576.5 208.1V216.5M578.5 212.9V218.2M579.5 210.6V218.2M581.5 207.5V211.7M582.5 197.8V204.3M584.5 191.1V197.3M586.5 186.5V193.4M587.5 189.6V194.8M589.5 232.7V254.4M590.5 231.2V308.3M592.5 253.6V317.7M593.5 253.6V317.7M595.5 254.3V279.5M596.5 254.3V276.7M598.5 253.1V278.1M599.5 265.7V278.1M601.5 263.9V271.8M602.5 270.4V276.5M604.5 271.1V285.7M605.5 285.7V305.4M606.5 271.6V286.3M607.5 269.7V289.8M609.5 268.7V289.5M610.5 268.7V289.6M612.5 277.4V281.6M613.5 274.7V284.1M615.5 283.4V291.3M616.5 279.7V291.3M618.5 276.9V286.9M619.5 276.9V289.8M621.5 281.2V288.8M623.5 279.5V288.4M624.5 274.5V285.8M626.5 272.3V285.3M627.5 279.4V293.9M629.5 278.3V288.5M630.5 293.4V304.0M632.5 292.5V300.2M633.5 292.5V302.6M635.5 292.5V306.9M636.5 292.5V306.9M638.5 289.2V298.2M639.5 282.9V289.3M641.5 256.5V268.0M643.5 259.9V272.3M644.5 257.2V272.3M646.5 263.5V273.8M647.5 261.5V273.8M649.5 261.5V269.5M650.5 275.8V282.4M652.5 273.1V280.7M653.5 279.2V288.2M655.5 275.2V285.8M656.5 283.7V295.4M658.5 292.8V301.1M659.5 289.6V298.0M661.5 295.4V308.9M663.5 286.7V311.2M664.5 287.4V301.6M666.5 275.2V286.0M667.5 276.3V291.0M669.5 263.0V270.0M670.5 258.7V273.8M672.5 258.7V270.1M673.5 290.9V304.0M675.5 279.5V292.0M676.5 290.2V298.2M678.5 286.0V296.5M679.5 292.7V302.6M681.5 291.0V302.6M683.5 292.0V302.6M684.5 275.9V283.5M686.5 280.5V288.2M687.5 276.7V287.9M688.5 287.2V292.5M689.5 278.5V284.4M690.5 251.0V275.1M692.5 231.9V242.9M693.5 235.4V244.0M695.5 217.4V226.3M696.5 224.4V230.1M698.5 230.8V236.9M699.5 230.9V244.1M701.5 232.2V242.7M703.5 218.4V225.4M704.5 214.5V221.6M706.5 220.1V225.6M707.5 219.3V242.7M709.5 219.5V229.6M710.5 206.0V213.1M712.5 198.7V211.5M713.5 198.7V203.3M715.5 198.8V205.3M716.5 193.0V201.8M718.5 197.1V208.1M720.5 203.6V211.6M721.5 201.9V211.6M723.5 203.8V211.6M724.5 194.7V203.2M726.5 187.4V191.7M727.5 183.9V193.2M729.5 183.9V192.5M730.5 184.0V192.5M732.5 178.1V184.6M733.5 178.3V184.6M735.5 175.3V183.2M736.5 175.3V181.6M738.5 178.8V185.2M740.5 183.2V192.5M741.5 184.6V192.5M743.5 181.7V186.4M744.5 182.2V187.5M746.5 161.6V183.9M747.5 161.6V168.4M749.5 156.1V159.9M750.5 150.1V154.6M752.5 146.0V152.7M753.5 152.6V160.9M755.5 157.9V164.5M756.5 157.3V164.5M758.5 161.6V166.6M760.5 161.6V203.7M761.5 187.8V203.7M763.5 183.2V193.1M764.5 183.2V194.0M766.5 202.6V216.7M767.5 202.6V215.9M769.5 207.6V214.4M770.5 197.4V218.8M772.5 197.3V225.3M773.5 182.8V225.3M775.5 169.5V187.9M776.5 171.5V177.1M778.5 163.7V178.8M780.5 167.3V178.8M781.5 150.1V154.4M783.5 155.8V171.7M784.5 156.7V171.7M786.5 152.9V164.4M787.5 162.5V177.4M789.5 171.4V181.7M790.5 170.8V180.5M792.5 165.2V186.0M793.5 165.2V186.0M795.5 167.3V197.9M797.5 183.2V197.9M798.5 189.6V197.9M800.5 191.5V199.4M801.5 186.8V199.4M803.5 186.8V198.9M804.5 202.7V208.6M806.5 197.6V222.4M807.5 209.2V222.4M809.5 215.8V231.9M810.5 211.6V239.0M812.5 210.8V223.6M813.5 212.6V226.7M815.5 200.4V208.6M817.5 189.2V201.5M818.5 170.9V203.3M820.5 183.9V190.8" stroke="#000" stroke-opacity="0.62" stroke-width="1" fill="none"/>
<path d="M7.5 392.2V407.8M8.5 387.5V392.8M10.5 371.2V374.9M11.5 356.0V365.7M13.5 358.0V368.7M14.5 360.2V365.1M16.5 362.1V365.8M17.5 355.7V358.8M19.5 347.3V352.1M20.5 345.1V357.2M22.5 348.5V360.1M23.5 347.9V365.1M25.5 356.8V363.3M27.5 353.6V360.9M28.5 346.2V355.0M30.5 352.2V378.7M31.5 350.2V364.0M33.5 369.7V385.9M34.5 371.6V381.2M36.5 387.2V397.0M37.5 391.9V402.7M39.5 405.0V426.4M40.5 401.0V417.8M42.5 400.5V415.3M43.5 394.4V423.9M45.5 385.4V427.0M47.5 408.0V413.7M48.5 404.6V416.6M50.5 413.0V424.7M51.5 403.1V413.6M53.5 411.2V415.8M54.5 409.5V418.1M56.5 401.0V404.9M57.5 391.2V396.0M59.5 391.9V396.4M60.5 398.2V402.3M62.5 399.2V405.0M63.5 396.6V401.7M65.5 412.6V422.1M67.5 412.8V420.0M68.5 403.9V409.4M70.5 400.8V413.2M71.5 404.0V413.4M73.5 385.0V392.5M74.5 385.0V389.3M76.5 383.4V392.0M77.5 382.7V390.6M79.5 387.9V394.8M80.5 376.6V380.0M82.5 374.5V379.3M84.5 381.5V390.7M85.5 381.2V389.0M87.5 378.8V386.5M88.5 377.4V381.2M90.5 377.7V383.7M91.5 391.6V400.2M93.5 388.0V399.5M94.5 385.8V398.6M96.5 395.7V403.6M97.5 397.5V404.4M99.5 384.6V403.4M100.5 391.6V418.0M102.5 386.1V399.7M104.5 404.6V413.7M105.5 403.7V413.6M107.5 407.1V413.0M108.5 402.4V415.2M110.5 401.9V413.9M111.5 431.0V447.7M113.5 439.6V443.8M114.5 440.4V447.6M116.5 434.4V444.9M117.5 426.9V431.8M119.5 415.0V419.3M120.5 415.9V419.6M122.5 421.4V435.3M124.5 400.6V407.4M125.5 399.4V407.6M127.5 389.9V397.8M128.5 390.7V403.3M130.5 393.1V401.0M131.5 384.3V405.2M133.5 385.1V392.4M134.5 379.1V382.9M136.5 378.1V384.3M137.5 379.4V384.0M139.5 376.2V389.0M140.5 377.2V387.8M142.5 376.1V388.9M144.5 359.3V368.3M145.5 359.8V372.1M147.5 356.7V359.3M148.5 347.4V352.2M150.5 347.5V352.0M151.5 344.8V345.8M153.5 337.7V342.3M154.5 331.5V342.5M156.5 328.6V332.6M157.5 319.1V324.8M159.5 313.6V317.3M161.5 315.0V319.3M162.5 308.1V311.7M164.5 299.9V303.5M165.5 302.4V312.5M167.5 290.4V295.8M168.5 291.6V297.2M170.5 289.0V292.9M171.5 282.6V290.1M173.5 282.5V291.1M174.5 286.8V292.5M176.5 282.2V286.1M177.5 278.3V283.1M179.5 280.5V286.6M181.5 290.7V296.5M182.5 297.2V302.8M184.5 293.1V299.6M185.5 304.2V311.9M187.5 316.0V322.8M188.5 314.4V327.3M190.5 306.6V315.6M191.5 308.6V323.7M193.5 300.9V304.3M194.5 287.8V299.8M196.5 299.0V307.8M197.5 300.0V307.0M199.5 305.6V312.9M201.5 312.7V318.4M202.5 321.3V328.4M204.5 313.4V317.9M205.5 316.2V319.9M207.5 298.0V302.9M208.5 294.6V304.5M210.5 288.9V300.7M211.5 311.1V322.8M213.5 323.0V327.3M214.5 306.4V313.0M216.5 293.3V304.7M217.5 295.7V301.1M219.5 297.3V308.9M221.5 298.3V307.8M222.5 304.4V315.2M224.5 277.7V291.3M225.5 256.4V260.8M227.5 253.2V256.8M228.5 257.5V262.5M230.5 265.0V272.1M231.5 264.5V270.6M233.5 262.5V274.1M234.5 267.1V277.8M236.5 254.0V260.4M237.5 256.3V260.8M239.5 257.6V263.4M241.5 249.2V257.3M242.5 238.4V241.6M244.5 234.2V237.3M245.5 230.1V232.7M247.5 224.0V226.7M248.5 224.5V227.1M250.5 218.1V224.9M251.5 218.2V228.0M253.5 222.4V227.7M254.5 222.6V228.1M256.5 230.1V236.5M258.5 225.6V232.5M259.5 222.4V228.3M261.5 208.2V226.5M262.5 201.2V214.3M264.5 189.2V196.0M265.5 180.2V195.0M267.5 184.8V192.2M268.5 181.2V188.5M270.5 190.1V194.0M271.5 198.1V203.1M273.5 202.2V213.5M274.5 204.8V213.7M276.5 210.3V213.2M278.5 201.1V217.4M279.5 204.1V217.6M281.5 209.5V222.3M282.5 216.8V220.1M284.5 221.0V230.8M285.5 222.2V226.8M287.5 234.7V238.5M288.5 229.2V241.1M290.5 222.1V242.2M291.5 216.2V219.5M293.5 210.6V216.4M294.5 200.7V212.0M296.5 193.0V196.1M298.5 192.4V194.4M299.5 194.0V200.2M301.5 202.1V211.3M302.5 198.5V206.0M304.5 193.5V201.6M305.5 203.3V217.8M307.5 202.2V221.2M308.5 203.3V214.0M310.5 187.4V191.9M311.5 188.2V196.0M313.5 187.4V192.4M315.5 191.2V195.5M316.5 189.7V196.8M318.5 180.7V187.1M319.5 173.8V178.0M321.5 175.1V178.7M322.5 169.3V173.3M324.5 166.1V172.8M325.5 166.8V171.7M327.5 166.8V172.3M328.5 166.3V171.6M330.5 174.7V179.4M331.5 182.4V187.2M333.5 182.1V186.9M335.5 190.8V195.9M336.5 196.8V200.1M338.5 196.1V200.3M339.5 188.6V202.0M341.5 205.6V211.6M342.5 242.5V255.0M344.5 230.8V243.8M345.5 231.0V244.9M347.5 234.5V239.0M348.5 233.0V242.5M350.5 243.9V249.3M351.5 238.4V247.1M353.5 247.7V251.3M355.5 246.7V251.5M356.5 241.3V251.4M358.5 244.6V252.2M359.5 238.9V247.3M361.5 242.8V248.7M362.5 242.5V246.4M364.5 246.2V255.8M365.5 260.5V270.2M367.5 264.5V271.4M368.5 259.5V264.6M370.5 253.1V257.0M371.5 238.8V252.8M373.5 236.5V241.8M375.5 241.4V246.4M376.5 240.5V247.5M378.5 251.7V257.6M379.5 247.1V253.5M381.5 254.5V261.3M382.5 272.7V278.8M384.5 277.0V287.3M385.5 265.0V270.9M387.5 261.5V266.1M388.5 263.5V267.8M390.5 257.2V263.7M392.5 246.1V249.5M393.5 243.0V247.1M395.5 244.6V249.2M396.5 238.4V245.5M398.5 238.6V245.1M399.5 243.9V253.3M401.5 255.6V260.7M402.5 254.6V259.4M404.5 276.7V299.9M405.5 267.2V294.3M407.5 306.8V318.7M408.5 309.8V317.8M410.5 301.0V309.0M412.5 305.2V312.0M413.5 307.1V312.1M415.5 301.6V313.0M416.5 298.2V306.9M418.5 314.8V327.3M419.5 323.7V329.5M421.5 311.5V317.8M422.5 315.4V320.8M424.5 314.1V329.8M425.5 320.3V327.7M427.5 320.4V331.5M428.5 322.2V333.6M430.5 317.4V322.1M432.5 319.2V322.7M433.5 313.6V316.0M435.5 307.7V314.1M436.5 309.6V316.1M438.5 313.5V319.1M439.5 312.0V318.2M441.5 322.8V333.1M442.5 328.0V334.7M444.5 315.4V330.5M445.5 301.5V309.3M447.5 297.4V311.5M448.5 288.6V292.5M450.5 283.8V296.3M452.5 275.1V281.4M453.5 277.5V282.7M455.5 279.2V285.4M456.5 276.6V283.7M458.5 293.0V307.0M459.5 288.7V300.8M461.5 283.1V300.1M462.5 278.3V297.7M464.5 260.5V265.8M465.5 260.1V264.6M467.5 264.4V268.7M469.5 263.1V267.4M470.5 260.7V266.1M472.5 248.2V258.0M473.5 251.0V259.8M475.5 246.2V248.8M476.5 241.8V247.2M478.5 228.9V232.8M479.5 225.2V228.5M481.5 235.9V240.7M482.5 232.2V238.8M484.5 231.9V239.2M485.5 233.5V241.6M487.5 238.7V242.3M489.5 240.2V244.0M490.5 245.1V254.2M492.5 250.8V255.3M493.5 257.3V266.4M495.5 260.7V266.3M496.5 258.3V261.5M498.5 247.6V252.1M499.5 238.4V242.1M501.5 239.5V243.7M502.5 241.1V251.0M504.5 248.3V254.8M505.5 235.9V240.4M507.5 231.6V237.2M509.5 237.6V241.2M510.5 237.9V241.9M512.5 243.1V247.6M513.5 240.7V246.0M515.5 242.0V253.1M516.5 254.8V262.3M518.5 254.9V262.9M519.5 255.7V263.0M521.5 251.4V254.9M522.5 243.0V246.2M524.5 243.0V246.8M525.5 238.4V241.1M527.5 233.6V237.5M529.5 233.4V237.2M530.5 238.5V242.5M532.5 237.7V242.0M533.5 231.0V235.3M535.5 231.4V237.3M536.5 236.5V240.9M538.5 251.5V256.5M539.5 249.3V256.6M541.5 254.4V256.9M542.5 256.5V264.0M544.5 247.5V251.6M546.5 244.2V249.0M547.5 245.8V250.0M549.5 250.5V256.1M550.5 252.3V256.9M552.5 248.0V252.0M553.5 246.5V250.0M555.5 247.9V252.2M556.5 246.3V251.1M558.5 253.5V256.3M559.5 251.3V255.4M561.5 263.8V272.6M562.5 259.1V269.8M564.5 261.3V274.1M566.5 257.5V266.1M567.5 257.7V267.7M569.5 242.8V253.4M570.5 243.4V257.0M572.5 230.7V235.8M573.5 232.1V237.7M575.5 208.6V218.8M576.5 209.3V214.6M578.5 214.9V217.4M579.5 213.2V217.3M581.5 207.6V209.9M582.5 198.7V202.3M584.5 192.2V195.5M586.5 187.2V192.3M587.5 189.8V193.4M589.5 234.2V250.0M590.5 231.9V274.1M592.5 260.0V300.8M593.5 260.9V296.8M595.5 256.5V274.6M596.5 263.3V276.7M598.5 257.3V272.2M599.5 269.3V275.1M601.5 267.4V271.6M602.5 272.5V276.1M604.5 272.4V279.1M606.5 276.5V284.7M607.5 272.0V281.1M609.5 275.3V288.0M610.5 275.9V287.8M612.5 277.5V280.6M613.5 275.5V281.7M615.5 284.1V289.0M616.5 283.0V290.5M618.5 278.1V283.7M619.5 279.2V285.3M621.5 282.6V287.6M623.5 280.1V284.4M624.5 277.6V282.8M626.5 277.1V285.0M627.5 284.4V292.3M629.5 282.4V288.3M630.5 294.0V301.0M632.5 293.2V298.8M633.5 292.9V300.4M635.5 293.6V302.9M636.5 295.2V305.3M638.5 293.1V297.5M639.5 283.8V288.0M641.5 258.9V266.2M643.5 261.9V269.8M644.5 257.8V268.8M646.5 264.6V271.5M647.5 266.1V273.1M649.5 262.3V267.1M650.5 277.3V282.1M652.5 273.2V278.9M653.5 282.6V287.4M655.5 275.8V283.3M656.5 287.1V292.6M658.5 296.0V300.3M659.5 292.5V297.7M661.5 296.0V303.6M663.5 292.6V310.0M664.5 292.6V300.7M666.5 280.8V285.9M667.5 279.4V289.9M669.5 263.0V267.1M670.5 260.2V269.9M672.5 259.4V265.2M673.5 291.7V298.1M675.5 280.6V287.6M676.5 291.2V296.5M678.5 289.3V294.5M679.5 294.7V300.3M681.5 294.6V301.1M683.5 296.3V302.0M684.5 277.1V282.0M686.5 282.0V287.2M687.5 278.0V284.5M689.5 280.4V283.5M690.5 252.3V266.1M692.5 233.5V239.9M693.5 237.1V242.5M695.5 219.1V223.3M696.5 225.1V228.8M698.5 232.9V235.7M699.5 232.6V240.4M701.5 234.9V242.6M703.5 219.7V224.7M704.5 216.2V219.6M706.5 222.8V225.6M707.5 223.9V235.5M709.5 222.8V227.8M710.5 208.7V212.5M712.5 201.8V208.0M713.5 199.8V203.2M715.5 200.1V204.1M716.5 195.0V199.8M718.5 197.6V203.0M720.5 204.3V209.7M721.5 204.0V209.0M723.5 204.0V209.5M724.5 195.9V202.2M726.5 188.6V191.7M727.5 187.7V192.3M729.5 186.2V190.5M730.5 187.8V192.4M732.5 179.6V182.6M733.5 181.3V184.3M735.5 177.8V182.9M736.5 177.6V181.4M738.5 179.3V183.7M740.5 184.6V190.1M741.5 188.1V191.8M743.5 182.4V185.3M744.5 182.9V185.9M746.5 165.1V180.2M747.5 161.6V166.6M749.5 156.1V159.9M750.5 150.7V153.2M752.5 147.5V151.1M753.5 153.0V156.9M755.5 158.8V163.3M756.5 159.6V163.4M758.5 162.1V165.6M760.5 170.1V199.0M761.5 193.1V200.5M763.5 183.3V189.6M764.5 183.2V190.0M766.5 207.4V216.6M767.5 204.5V213.6M769.5 208.9V212.8M770.5 197.9V212.3M772.5 202.7V220.9M773.5 201.3V224.4M775.5 173.2V182.7M776.5 174.0V176.8M778.5 166.1V174.8M780.5 170.5V177.4M781.5 151.8V153.8M783.5 158.5V166.6M784.5 159.6V169.0M786.5 154.1V162.2M787.5 163.8V174.8M789.5 175.0V180.4M790.5 175.1V179.6M792.5 170.6V182.7M793.5 167.8V182.9M795.5 168.3V189.0M797.5 188.7V195.5M798.5 190.1V194.7M800.5 191.7V197.2M801.5 190.1V196.5M803.5 189.1V197.3M804.5 203.4V207.3M806.5 207.4V220.8M807.5 209.3V216.3M809.5 217.7V226.4M810.5 215.3V229.8M812.5 211.4V220.5M813.5 215.5V224.3M815.5 203.1V208.4M817.5 195.3V201.1M818.5 177.9V194.8M820.5 184.8V189.9M759.5 166V203M760.5 166.5V203M773.5 181V224.5M774.5 182V222M591.5 257V305M592.5 256V300" stroke="#000" stroke-width="1" fill="none"/>
<g style="mix-blend-mode:difference">
<rect x="6" y="147" width="1063" height="1" fill="#003333"/>
<rect x="6" y="148" width="1063" height="1" fill="#006565"/>
<rect x="6" y="166" width="1063" height="1" fill="#00dddd"/>
<rect x="6" y="186" width="1063" height="1" fill="#005959"/>
<rect x="6" y="187" width="1063" height="1" fill="#003f3f"/>
<rect x="6" y="216" width="1063" height="1" fill="#001919"/>
<rect x="6" y="217" width="1063" height="1" fill="#008d8d"/>
<rect x="6" y="230" width="1063" height="1" fill="#002121"/>
<rect x="6" y="231" width="1063" height="1" fill="#007575"/>
<rect x="6" y="242" width="1063" height="1" fill="#008b8b"/>
<rect x="6" y="243" width="1063" height="1" fill="#001919"/>
</g>
<rect x="588.8" y="186" width="9" height="1.7" fill="#a4f6f8"/>
<rect x="960.4" y="216.9" width="2.8" height="1.2" fill="#7cf0f4"/><rect x="979" y="216.9" width="9.3" height="1.3" fill="#7cf0f4"/>
<rect x="118" y="531.4" width="1" height="13.4" fill="#222"/>
<text class="ax" x="120.3" y="542.2" textLength="9.4" lengthAdjust="spacingAndGlyphs">24</text>
<rect x="504" y="531.4" width="1" height="13.4" fill="#222"/>
<text class="ax" x="506.3" y="542.2" textLength="9.4" lengthAdjust="spacingAndGlyphs">25</text>
<rect x="771.0" y="530.3" width="2.2" height="4.7" fill="#111"/>
<rect x="775" y="530.3" width="1.4" height="4.7" fill="#111"/>
<rect x="778.2" y="530.3" width="1.6" height="4.7" fill="#111"/>
<rect x="781.2" y="530.3" width="3.2" height="4.7" fill="#111"/>
<rect x="786" y="530.3" width="1.6" height="4.7" fill="#111"/>
<rect x="789.2" y="530.3" width="1.3" height="4.7" fill="#111"/>
<rect x="792.2" y="530.3" width="1.6" height="4.7" fill="#111"/>
<rect x="795.3" y="530.3" width="3.5" height="4.7" fill="#111"/>
<rect x="800.4" y="530.3" width="1.4" height="4.7" fill="#111"/>
<rect x="803.4" y="530.3" width="1.5" height="4.7" fill="#111"/>
<rect x="806.5" y="530.3" width="1.4" height="4.7" fill="#111"/>
<rect x="809.5" y="530.3" width="3.5" height="4.7" fill="#111"/>
<rect x="814.5" y="530.3" width="1.4" height="4.7" fill="#111"/>
<rect x="817.3" y="530.3" width="1.1" height="4.7" fill="#111"/>
<rect x="819.7" y="530.3" width="1.3" height="4.7" fill="#111"/>
<rect x="4" y="544.6" width="1047" height="6.6" fill="url(#dots)"/>
<rect x="4" y="544.6" width="12" height="5.7999999999999545" fill="#f2f2f2"/><rect x="4" y="549.6" width="12" height="0.9" fill="#6a6a6a"/><rect x="15.2" y="544.6" width="0.9" height="5.7999999999999545" fill="#6a6a6a"/>
<path d="M10.8 546.4 L10.8 549 L8.8 547.7 Z" fill="#222"/>
<rect x="1051.4" y="544.6" width="5.5" height="5.7999999999999545" fill="#f2f2f2"/><rect x="1051.4" y="549.6" width="5.5" height="0.9" fill="#6a6a6a"/><rect x="1056.1000000000001" y="544.6" width="0.9" height="5.7999999999999545" fill="#6a6a6a"/>
<rect x="1056.9" y="544.6" width="12.0" height="5.7999999999999545" fill="#f2f2f2"/><rect x="1056.9" y="549.6" width="12.0" height="0.9" fill="#6a6a6a"/><rect x="1068.1000000000001" y="544.6" width="0.9" height="5.7999999999999545" fill="#6a6a6a"/>
<path d="M1062.2 546.4 L1062.2 549 L1064 547.7 Z" fill="#222"/>
<rect x="1085.4" y="536.2" width="14" height="14.2" fill="#e4e4e4" stroke="#bcbcbc" stroke-width="0.8"/>
<path d="M1087.2 544.6 C1087.6 541.4 1090.2 539.2 1093.8 539.2 L1093 540.6 L1094 541 L1091.4 543 L1092.2 543.4 L1090.6 545.6 L1089.4 545.2 Z" fill="#1a58b0"/>
<path d="M1097.6 542.6 C1097.6 545.6 1095 548 1091.2 547.8 L1092.2 546.4 L1091.2 546 L1093.6 544.2 L1092.8 543.6 L1094.6 541.4 L1095.8 542 Z" fill="#1a58b0"/>
<rect x="1099.8" y="542.4" width="9.4" height="8" fill="#e3e3e3" stroke="#b4b4b4" stroke-width="0.7"/><rect x="1109.4" y="542.4" width="7.2" height="8" fill="#e3e3e3" stroke="#b4b4b4" stroke-width="0.7"/>
<path d="M1106.8 543.8 V549.2 L1101.8 546.5 Z" fill="#0404f0"/><rect x="1106.2" y="543.8" width="0.9" height="5.4" fill="#080820"/>
<path d="M1110 543.8 V549.2 L1115 546.5 Z" fill="#0404f0"/><rect x="1109.8" y="543.8" width="0.9" height="5.4" fill="#080820"/>
<rect x="3" y="551.7" width="1116.4" height="1.6" fill="#c2c2c2"/><rect x="1117.9" y="1.7" width="1.6" height="551.6" fill="#c2c2c2"/>
</svg>
</body></html>
